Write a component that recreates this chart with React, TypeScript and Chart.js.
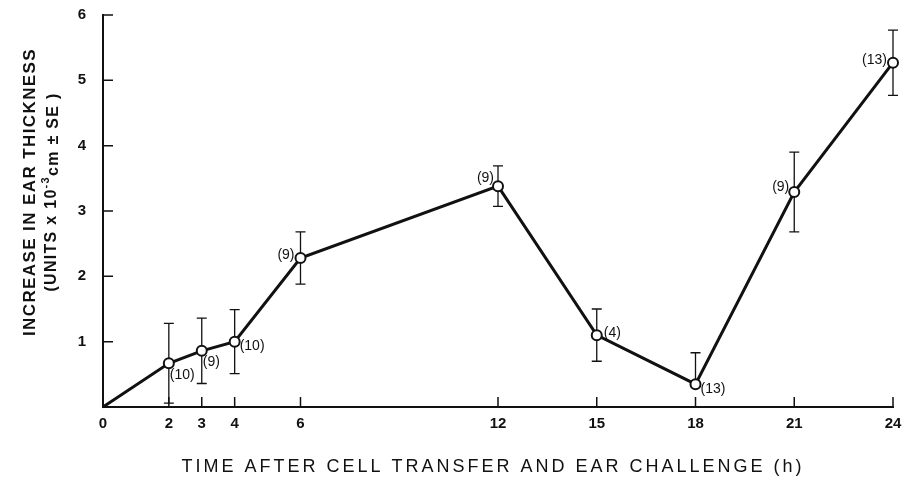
import React, { useEffect, useRef } from "react";
import { Chart, registerables } from "chart.js";

Chart.register(...registerables);

// ---- data ----
const hours: number[] = [0, 2, 3, 4, 6, 12, 15, 18, 21, 24];
const meanIncrease: number[] = [0, 0.67, 0.86, 1.0, 2.28, 3.38, 1.1, 0.35, 3.29, 5.27];
const stdErr: number[] = [0, 0.61, 0.5, 0.49, 0.4, 0.31, 0.4, 0.48, 0.61, 0.5];
const nAnimals: (number | null)[] = [null, 10, 9, 10, 9, 9, 4, 13, 9, 13];
const xTickValues: number[] = [0, 2, 3, 4, 6, 12, 15, 18, 21, 24];
const yTickValues: number[] = [1, 2, 3, 4, 5, 6];

// label placement (styling only): dx, dy from marker, alignment
const labelPlacement: { dx: number; dy: number; align: CanvasTextAlign }[] = [
  { dx: 0, dy: 0, align: "left" },
  { dx: 1, dy: 12, align: "left" },
  { dx: 1, dy: 11, align: "left" },
  { dx: 5, dy: 4, align: "left" },
  { dx: -6, dy: -3, align: "right" },
  { dx: -4, dy: -8, align: "right" },
  { dx: 7, dy: -2, align: "left" },
  { dx: 5, dy: 5, align: "left" },
  { dx: -5, dy: -5, align: "right" },
  { dx: -6, dy: -3, align: "right" },
];

const INK = "#111";
const FONT = "'Liberation Sans', Arial, sans-serif";

const decorPlugin = {
  id: "decor",
  beforeDatasetsDraw(chart: any) {
    const { ctx, scales } = chart;
    const xs = scales.x;
    const ys = scales.y;
    ctx.save();
    ctx.strokeStyle = INK;
    ctx.lineWidth = 1.3;
    for (let i = 0; i < hours.length; i++) {
      const se = stdErr[i];
      if (!se) continue;
      const px = xs.getPixelForValue(hours[i]);
      const pm = ys.getPixelForValue(meanIncrease[i]);
      const top = ys.getPixelForValue(meanIncrease[i] + se);
      const lowVal = meanIncrease[i] - se;
      ctx.beginPath();
      ctx.moveTo(px, pm);
      ctx.lineTo(px, top);
      ctx.moveTo(px - 5, top);
      ctx.lineTo(px + 5, top);
      if (lowVal >= 0) {
        const bot = ys.getPixelForValue(lowVal);
        ctx.moveTo(px, pm);
        ctx.lineTo(px, bot);
        ctx.moveTo(px - 5, bot);
        ctx.lineTo(px + 5, bot);
      }
      ctx.stroke();
    }
    ctx.restore();
  },
  afterDraw(chart: any) {
    const { ctx, scales, chartArea } = chart;
    const xs = scales.x;
    const ys = scales.y;
    ctx.save();
    ctx.strokeStyle = INK;
    ctx.lineWidth = 1.5;
    // inward ticks
    ctx.beginPath();
    for (const v of xTickValues) {
      if (v === 0) continue;
      const px = xs.getPixelForValue(v);
      ctx.moveTo(px, chartArea.bottom);
      ctx.lineTo(px, chartArea.bottom - 10);
    }
    for (const v of yTickValues) {
      const py = ys.getPixelForValue(v);
      ctx.moveTo(chartArea.left, py);
      ctx.lineTo(chartArea.left + 10, py);
    }
    ctx.stroke();

    // n labels
    ctx.fillStyle = INK;
    ctx.font = `14px ${FONT}`;
    ctx.textBaseline = "middle";
    for (let i = 0; i < hours.length; i++) {
      const n = nAnimals[i];
      if (n == null) continue;
      const p = labelPlacement[i];
      ctx.textAlign = p.align;
      ctx.fillText(
        `(${n})`,
        xs.getPixelForValue(hours[i]) + p.dx,
        ys.getPixelForValue(meanIncrease[i]) + p.dy
      );
    }

    // x title
    ctx.font = `18px ${FONT}`;
    (ctx as any).letterSpacing = "3px";
    ctx.textAlign = "center";
    ctx.textBaseline = "middle";
    ctx.fillText("TIME AFTER CELL TRANSFER AND EAR CHALLENGE (h)", 493, 467);

    // y title
    ctx.translate(30, 192);
    ctx.rotate(-Math.PI / 2);
    ctx.font = `bold 17px ${FONT}`;
    (ctx as any).letterSpacing = "1.4px";
    ctx.fillText("INCREASE IN EAR THICKNESS", 0, 0);
    // second line with superscript
    ctx.textAlign = "left";
    ctx.textBaseline = "alphabetic";
    const f2 = `bold 16px ${FONT}`;
    const fs = `bold 11px ${FONT}`;
    (ctx as any).letterSpacing = "1.3px";
    const partA = "(UNITS x 10";
    const sup = "-3";
    const partB = "cm \u00B1 SE )";
    ctx.font = f2;
    const wA = ctx.measureText(partA).width;
    const wB = ctx.measureText(partB).width;
    ctx.font = fs;
    const wS = ctx.measureText(sup).width;
    const total = wA + wS + wB;
    let cx = -total / 2;
    const base = 26;
    ctx.font = f2;
    ctx.fillText(partA, cx, base);
    cx += wA;
    ctx.font = fs;
    ctx.fillText(sup, cx, base - 7);
    cx += wS;
    ctx.font = f2;
    ctx.fillText(partB, cx, base + 2);
    ctx.restore();
  },
};

export default function App() {
  const canvasRef = useRef<HTMLCanvasElement | null>(null);

  useEffect(() => {
    if (!canvasRef.current) return;
    const chart = new Chart(canvasRef.current, {
      type: "line",
      data: {
        datasets: [
          {
            data: hours.map((h, i) => ({ x: h, y: meanIncrease[i] })),
            borderColor: INK,
            borderWidth: 3,
            backgroundColor: "#fff",
            pointBackgroundColor: "#fff",
            pointBorderColor: INK,
            pointBorderWidth: 2,
            pointRadius: hours.map((_, i) => (i === 0 ? 0 : 5)),
            tension: 0,
            fill: false,
            clip: false as any,
          },
        ],
      },
      options: {
        animation: false,
        responsive: true,
        maintainAspectRatio: false,
        layout: { padding: { top: 15, right: 13, left: 0, bottom: 0 } },
        plugins: {
          legend: { display: false },
          tooltip: { enabled: false },
          title: { display: false },
        },
        scales: {
          x: {
            type: "linear",
            min: 0,
            max: 24,
            afterBuildTicks: (scale: any) => {
              scale.ticks = xTickValues.map((v) => ({ value: v }));
            },
            afterFit: (scale: any) => {
              scale.height = 72;
              scale.paddingLeft = 0;
              scale.paddingRight = 0;
            },
            grid: { display: false, drawTicks: false },
            border: { display: true, color: INK, width: 2 },
            ticks: {
              autoSkip: false,
              maxRotation: 0,
              padding: 8,
              color: INK,
              font: { family: FONT, size: 15, weight: "bold" },
            },
          },
          y: {
            type: "linear",
            min: 0,
            max: 6,
            afterBuildTicks: (scale: any) => {
              scale.ticks = yTickValues.map((v) => ({ value: v }));
            },
            afterFit: (scale: any) => {
              scale.width = 103;
              scale.paddingTop = 0;
              scale.paddingBottom = 0;
            },
            grid: { display: false, drawTicks: false },
            border: { display: true, color: INK, width: 2 },
            ticks: {
              padding: 17,
              color: INK,
              font: { family: FONT, size: 15, weight: "bold" },
            },
          },
        },
      },
      plugins: [decorPlugin],
    });
    return () => chart.destroy();
  }, []);

  return (
    <div
      style={{
        position: "fixed",
        left: 0,
        top: 0,
        width: 906,
        height: 479,
        background: "#fff",
      }}
    >
      <canvas ref={canvasRef} />
    </div>
  );
}
